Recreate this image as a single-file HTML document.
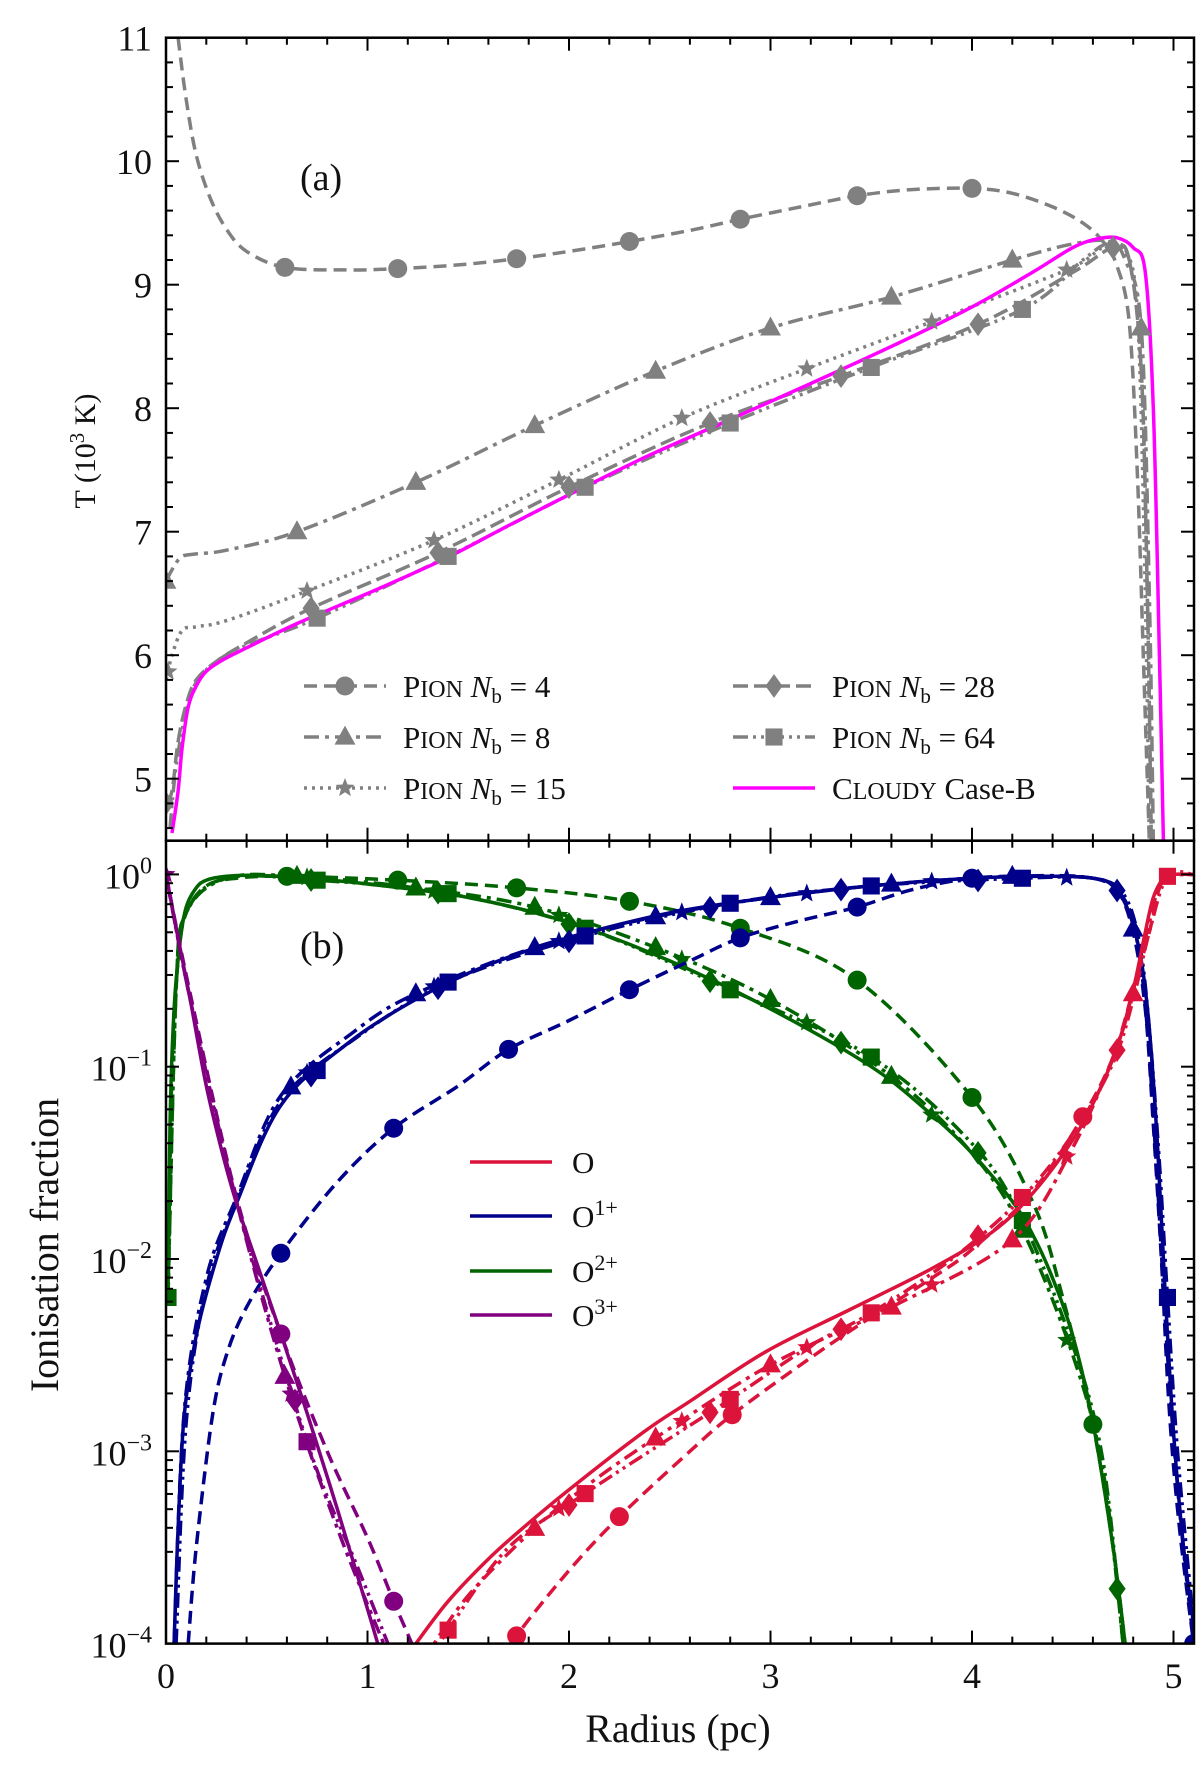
<!DOCTYPE html>
<html><head><meta charset="utf-8"><style>
html,body{margin:0;padding:0;background:#fff;}
svg text{font-family:"Liberation Serif",serif;fill:#111;}
</style></head><body>
<svg id="fig" width="1200" height="1775" viewBox="0 0 1200 1775" xmlns="http://www.w3.org/2000/svg" font-family="Liberation Serif, serif">
<defs>
<clipPath id="ca"><rect x="166" y="37.7" width="1028" height="803"/></clipPath>
<clipPath id="cb"><rect x="166" y="840.7" width="1028" height="803"/></clipPath>
</defs>
<g id="gA" clip-path="url(#ca)"></g>
<g id="gB" clip-path="url(#cb)"></g>
<g id="axes"></g>
<text x="300" y="190" font-size="38">(a)</text>
<text x="300" y="958" font-size="38">(b)</text>
<text x="0" y="0" font-size="30" transform="translate(95,451) rotate(-90)" text-anchor="middle">T (10<tspan font-size="21" dy="-11">3</tspan><tspan dy="11"> K)</tspan></text>
<text x="0" y="0" font-size="40" transform="translate(58,1245) rotate(-90)" text-anchor="middle">Ionisation fraction</text>
<text x="678" y="1742" font-size="40" text-anchor="middle">Radius (pc)</text>
<g id="legA"></g>
<g id="legB"></g>
</svg>
<script>
// ---------- Panel (a) data: Temperature (10^3 K) vs radius (pc) ----------
const nb4_R=[0.06,0.1,0.15,0.22,0.3,0.4,0.59,0.9,1.15,1.45,1.74,2.0,2.3,2.6,2.85,3.15,3.43,3.7,4.0,4.2,4.4,4.55,4.65,4.72,4.78,4.82,4.85,4.88];
const nb4_T=[11.0,10.5,10.05,9.7,9.45,9.27,9.14,9.12,9.13,9.16,9.21,9.27,9.35,9.44,9.53,9.63,9.72,9.77,9.78,9.74,9.63,9.5,9.35,9.15,8.7,7.5,6.0,4.5];
const nb4_mR=[0.59,1.15,1.74,2.3,2.85,3.43,4.0];
const nb8_R=[0,0.04,0.08,0.15,0.3,0.65,1.24,1.83,2.43,3.0,3.6,4.2,4.5,4.68,4.76,4.84,4.88,4.9];
const nb8_T=[6.6,6.72,6.8,6.82,6.85,7.0,7.4,7.86,8.3,8.65,8.9,9.2,9.33,9.35,9.2,8.65,6.5,4.5];
const nb8_mR=[0,0.65,1.24,1.83,2.43,3.0,3.6,4.2,4.84];
const nb15_R=[0,0.03,0.08,0.15,0.3,0.7,1.33,1.95,2.56,3.18,3.8,4.47,4.65,4.75,4.82,4.86,4.88];
const nb15_T=[5.8,6.0,6.2,6.23,6.28,6.52,6.93,7.42,7.92,8.32,8.7,9.12,9.3,9.28,8.8,6.5,4.5];
const nb15_mR=[0.01,0.7,1.33,1.95,2.56,3.18,3.8,4.47];
const nb28_R=[0,0.03,0.06,0.1,0.15,0.25,0.4,0.72,1.35,2.0,2.7,3.35,4.03,4.5,4.7,4.78,4.84,4.87,4.89];
const nb28_T=[4.8,4.9,5.3,5.6,5.8,5.95,6.1,6.38,6.83,7.36,7.88,8.26,8.68,9.1,9.3,9.2,8.3,6.5,4.5];
const nb28_mR=[0,0.72,1.35,2.0,2.7,3.35,4.03,4.7];
const nb64_R=[0.02,0.05,0.1,0.15,0.25,0.4,0.75,1.4,2.08,2.8,3.5,4.25,4.55,4.68,4.78,4.84,4.87,4.89];
const nb64_T=[4.6,5.1,5.55,5.78,5.95,6.08,6.3,6.8,7.36,7.88,8.33,8.8,9.2,9.33,9.2,8.3,6.5,4.5];
const nb64_mR=[0.75,1.4,2.08,2.8,3.5,4.25];
const cl_R=[0.03,0.06,0.08,0.11,0.15,0.2,0.28,0.4,0.655,1.0,1.37,1.7,2.05,2.4,2.76,3.2,3.6,4.0,4.3,4.5,4.62,4.72,4.8,4.86,4.9,4.93,4.95];
const cl_T=[4.56,4.9,5.25,5.58,5.75,5.87,5.96,6.06,6.26,6.5,6.77,7.05,7.34,7.62,7.88,8.2,8.5,8.82,9.1,9.3,9.37,9.38,9.3,9.1,8.0,6.0,4.5];
const tTicks=[5,6,7,8,9,10,11];
const rTicks=[0,1,2,3,4,5];

// ---------- Panel (b) data: log10 ionisation fraction ----------
const o2_sR=[0.01,0.02,0.04,0.07,0.1,0.15,0.2,0.3,0.45,0.7,1.0,1.5,2.0,2.5,3.0,3.5,3.8,4.0,4.2,4.3,4.4,4.5,4.6,4.7,4.76];
const o2_sL=[-2.2,-1.3,-0.7,-0.35,-0.17,-0.07,-0.03,-0.01,-0.005,-0.02,-0.05,-0.12,-0.25,-0.45,-0.7,-1.0,-1.25,-1.45,-1.7,-1.87,-2.1,-2.4,-2.85,-3.5,-4.0];
const o2_4R=[0.01,0.03,0.06,0.1,0.2,0.35,0.6,1.15,1.74,2.3,2.85,3.43,4.0,4.3,4.45,4.6,4.7,4.76];
const o2_4L=[-2.2,-1.0,-0.45,-0.2,-0.06,-0.02,-0.01,-0.03,-0.07,-0.14,-0.28,-0.55,-1.16,-1.7,-2.2,-2.86,-3.5,-4.0];
const o2_4m=[0.6,1.15,1.74,2.3,2.85,3.43,4.0,4.6];
const o2_8R=[0.01,0.05,0.1,0.3,0.65,1.24,1.83,2.43,3.0,3.6,4.0,4.25,4.5,4.65,4.75];
const o2_8L=[-2.2,-0.6,-0.2,-0.02,-0.01,-0.07,-0.17,-0.38,-0.65,-1.05,-1.45,-1.85,-2.5,-3.1,-4.0];
const o2_8m=[0.65,1.24,1.83,2.43,3.0,3.6,4.25];
const o2_64R=[0.01,0.05,0.1,0.3,0.75,1.4,2.08,2.8,3.5,4.0,4.25,4.5,4.65,4.75];
const o2_64L=[-2.2,-0.6,-0.2,-0.02,-0.03,-0.1,-0.28,-0.6,-0.95,-1.4,-1.8,-2.45,-3.05,-4.0];
const o2_64m=[0.01,0.75,1.4,2.08,2.8,3.5,4.25];
const o2_st=[0.7,1.33,1.95,2.56,3.18,3.8,4.47];
const o2_di=[0.72,1.35,2.0,2.7,3.35,4.03,4.72];

const o1_sR=[0.04,0.06,0.09,0.15,0.25,0.35,0.57,0.9,1.24,1.6,2.0,2.5,3.0,3.5,4.0,4.4,4.6,4.7,4.78,4.84,4.88,4.92,4.96,5.0,5.05,5.1];
const o1_sL=[-4.0,-3.4,-2.82,-2.4,-2.0,-1.71,-1.2,-0.88,-0.65,-0.47,-0.33,-0.2,-0.12,-0.06,-0.02,-0.01,-0.02,-0.06,-0.2,-0.45,-0.8,-1.4,-2.2,-2.9,-3.5,-3.9];
const o1_4R=[0.11,0.15,0.23,0.3,0.4,0.57,0.85,1.13,1.45,1.70,2.0,2.3,2.6,2.85,3.15,3.43,3.7,4.0,4.3,4.6,4.72,4.8,4.86,4.9,4.94,4.98,5.03,5.1];
const o1_4L=[-4.0,-3.5,-2.82,-2.5,-2.25,-1.97,-1.6,-1.32,-1.1,-0.91,-0.76,-0.6,-0.45,-0.33,-0.24,-0.17,-0.08,-0.02,-0.01,-0.02,-0.08,-0.3,-0.7,-1.3,-2.0,-2.8,-3.4,-4.0];
const o1_4m=[0.57,1.13,1.70,2.3,2.85,3.43,4.0,5.1];
const o1_8R=[0.04,0.09,0.2,0.35,0.57,0.93,1.24,1.83,2.43,3.0,3.6,4.2,4.6,4.75,4.82,4.87,4.92,4.97,5.03,5.1];
const o1_8L=[-4.0,-2.8,-2.1,-1.68,-1.15,-0.82,-0.62,-0.38,-0.22,-0.12,-0.05,-0.01,-0.02,-0.12,-0.35,-0.8,-1.6,-2.5,-3.3,-4.0];
const o1_8m=[0.62,1.24,1.83,2.43,3.0,3.6,4.2,4.8];
const o1_64R=[0.05,0.1,0.2,0.35,0.57,0.93,1.4,2.08,2.8,3.5,4.25,4.6,4.75,4.83,4.88,4.93,4.97,5.02,5.1];
const o1_64L=[-4.0,-2.85,-2.15,-1.7,-1.18,-0.86,-0.56,-0.32,-0.15,-0.06,-0.02,-0.02,-0.1,-0.35,-0.8,-1.5,-2.2,-3.0,-3.9];
const o1_64m=[0.75,1.4,2.08,2.8,3.5,4.25,4.97];
const o1_st=[0.7,1.33,1.95,2.56,3.18,3.8,4.47];
const o1_di=[0.72,1.35,2.0,2.7,3.35,4.03,4.72];

const o0_sR=[1.24,1.4,1.6,1.77,2.0,2.37,2.6,2.98,3.4,3.8,4.1,4.3,4.5,4.62,4.72,4.8,4.86,4.9,4.95,5.0,5.1];
const o0_sL=[-4.0,-3.78,-3.56,-3.40,-3.2,-2.9,-2.74,-2.48,-2.26,-2.05,-1.86,-1.66,-1.38,-1.15,-0.9,-0.6,-0.3,-0.12,-0.02,0,0];
const o0_4R=[1.68,1.74,2.0,2.25,2.6,2.81,3.15,3.43,3.8,4.0,4.3,4.55,4.7,4.8,4.88,4.95,5.1];
const o0_4L=[-4.1,-3.96,-3.62,-3.34,-3.0,-2.81,-2.55,-2.35,-2.1,-1.95,-1.65,-1.26,-0.95,-0.6,-0.3,-0.03,0];
const o0_4m=[1.74,2.25,2.81,4.55];
const o0_8R=[1.3,1.5,1.83,2.1,2.43,3.0,3.6,4.2,4.5,4.7,4.8,4.88,4.95,5.1];
const o0_8L=[-4.05,-3.75,-3.4,-3.17,-2.93,-2.55,-2.25,-1.9,-1.42,-0.95,-0.62,-0.25,-0.03,0];
const o0_8m=[1.83,2.43,3.0,3.6,4.2,4.8];
const o0_64R=[1.3,1.4,1.7,2.08,2.4,2.8,3.2,3.5,3.9,4.25,4.5,4.7,4.8,4.88,4.97,5.1];
const o0_64L=[-4.1,-3.93,-3.5,-3.22,-3.0,-2.73,-2.45,-2.28,-2.0,-1.68,-1.35,-0.98,-0.65,-0.3,-0.01,0];
const o0_64m=[1.4,2.08,2.8,3.5,4.25,4.97];
const o0_st=[1.95,2.56,3.18,3.8,4.47];
const o0_di=[2.0,2.7,3.35,4.03,4.72];

const o3_sR=[0,0.06,0.12,0.2,0.28,0.35,0.45,0.57,0.7,0.85,1.0,1.06,1.1];
const o3_sL=[0,-0.33,-0.65,-1.1,-1.45,-1.71,-2.02,-2.39,-2.8,-3.3,-3.82,-4.03,-4.15];
const o3_4R=[0,0.12,0.35,0.57,0.8,1.0,1.13,1.22];
const o3_4L=[0,-0.62,-1.68,-2.39,-3.0,-3.45,-3.78,-4.0];
const o3_4m=[0.57,1.13];
const o3_8R=[0,0.12,0.35,0.59,0.85,1.1];
const o3_8L=[0,-0.65,-1.7,-2.61,-3.4,-4.05];
const o3_8m=[0.59];
const o3_64R=[0,0.12,0.35,0.70,0.95,1.12];
const o3_64L=[0,-0.65,-1.7,-2.95,-3.6,-4.05];
const o3_64m=[0.70];
const o3_st=[0,0.62];
const o3_di=[0.64];
const logTicks=[0,-1,-2,-3,-4];

// ---------- axes ----------
const X0=166, PX=201.5;
const xr=r=>X0+r*PX;
const ya=t=>37.7+(11-t)*123.5;
const yb=l=>874.4-l*192.3;
const NS="http://www.w3.org/2000/svg";
function mk(tag,attrs,parent){const e=document.createElementNS(NS,tag);for(const k in attrs)e.setAttribute(k,attrs[k]);parent.appendChild(e);return e;}
function interp(R,V,x){if(x<=R[0])return V[0];for(let i=1;i<R.length;i++){if(x<=R[i]){const f=(x-R[i-1])/(R[i]-R[i-1]);return V[i-1]+f*(V[i]-V[i-1]);}}return V[V.length-1];}
function pathD(R,V,fy){const p=R.map((r,i)=>[xr(r),fy(V[i])]);let d="M"+p[0][0].toFixed(1)+","+p[0][1].toFixed(1);
 for(let i=0;i<p.length-1;i++){const p0=p[Math.max(0,i-1)],p1=p[i],p2=p[i+1],p3=p[Math.min(p.length-1,i+2)];
 const c1=[p1[0]+(p2[0]-p0[0])/6,p1[1]+(p2[1]-p0[1])/6],c2=[p2[0]-(p3[0]-p1[0])/6,p2[1]-(p3[1]-p1[1])/6];
 d+=" C"+c1[0].toFixed(1)+","+c1[1].toFixed(1)+" "+c2[0].toFixed(1)+","+c2[1].toFixed(1)+" "+p2[0].toFixed(1)+","+p2[1].toFixed(1);}return d;}
function line(g,R,V,fy,color,dash,w,name){const e=mk("path",{d:pathD(R,V,fy),fill:"none",stroke:color,"stroke-width":w,"stroke-dasharray":dash||"none","stroke-linejoin":"round"},g);
 
 return e;}
function marker(g,type,cx,cy,color,name){let e;const s=9.5;
 if(type==="o")e=mk("circle",{cx:cx,cy:cy,r:s},g);
 else if(type==="^")e=mk("polygon",{points:`${cx},${cy-s*1.2} ${cx-s*1.1},${cy+s*0.8} ${cx+s*1.1},${cy+s*0.8}`},g);
 else if(type==="s")e=mk("rect",{x:cx-s*0.9,y:cy-s*0.9,width:s*1.8,height:s*1.8},g);
 else if(type==="d")e=mk("polygon",{points:`${cx},${cy-s*1.25} ${cx+s*0.9},${cy} ${cx},${cy+s*1.25} ${cx-s*0.9},${cy}`},g);
 else {let pts=[];for(let i=0;i<10;i++){const a=-Math.PI/2+i*Math.PI/5,rr=i%2?s*0.45:s*1.05;pts.push((cx+rr*Math.cos(a)).toFixed(1)+","+(cy+rr*Math.sin(a)).toFixed(1));}e=mk("polygon",{points:pts.join(" ")},g);}
 e.setAttribute("fill",color);
 
 }
const GRAY="#808080";
const gA=document.getElementById("gA"), gB=document.getElementById("gB");

// panel a lines
line(gA,nb4_R,nb4_T,ya,GRAY,"13,7",3.5,"line-pion-nb4");
line(gA,nb8_R,nb8_T,ya,GRAY,"15,6,4,6",3.5,"line-pion-nb8");
line(gA,nb15_R,nb15_T,ya,GRAY,"3,5",3.5,"line-pion-nb15");
line(gA,nb28_R,nb28_T,ya,GRAY,"15,6",3.5,"line-pion-nb28");
line(gA,nb64_R,nb64_T,ya,GRAY,"15,5,3,5,3,5",3.5,"line-pion-nb64");
line(gA,cl_R,cl_T,ya,"#ff00ff","none",3.5,"line-cloudy");
nb4_mR.forEach(r=>marker(gA,"o",xr(r),ya(interp(nb4_R,nb4_T,r)),GRAY,"marker-nb4"));
nb8_mR.forEach(r=>marker(gA,"^",xr(r),ya(interp(nb8_R,nb8_T,r)),GRAY,"marker-nb8"));
nb15_mR.forEach(r=>marker(gA,"*",xr(r),ya(interp(nb15_R,nb15_T,r)),GRAY,"marker-nb15"));
nb28_mR.forEach(r=>marker(gA,"d",xr(r),ya(interp(nb28_R,nb28_T,r)),GRAY,"marker-nb28"));
nb64_mR.forEach(r=>marker(gA,"s",xr(r),ya(interp(nb64_R,nb64_T,r)),GRAY,"marker-nb64"));

// panel b
const ions=[
 {n:"o2p",c:"#006400",s:[o2_sR,o2_sL],a:[o2_4R,o2_4L,o2_4m],b:[o2_8R,o2_8L,o2_8m],q:[o2_64R,o2_64L,o2_64m],st:o2_st,di:o2_di},
 {n:"o1p",c:"#00008b",s:[o1_sR,o1_sL],a:[o1_4R,o1_4L,o1_4m],b:[o1_8R,o1_8L,o1_8m],q:[o1_64R,o1_64L,o1_64m],st:o1_st,di:o1_di},
 {n:"o0",c:"#dc143c",s:[o0_sR,o0_sL],a:[o0_4R,o0_4L,o0_4m],b:[o0_8R,o0_8L,o0_8m],q:[o0_64R,o0_64L,o0_64m],st:o0_st,di:o0_di},
 {n:"o3p",c:"#800080",s:[o3_sR,o3_sL],a:[o3_4R,o3_4L,o3_4m],b:[o3_8R,o3_8L,o3_8m],q:[o3_64R,o3_64L,o3_64m],st:o3_st,di:o3_di}];
ions.forEach(I=>{
 line(gB,I.s[0],I.s[1],yb,I.c,"none",3.5,"line-"+I.n+"-cloudy");
 line(gB,I.a[0],I.a[1],yb,I.c,"13,7",3.5,"line-"+I.n+"-nb4");
 line(gB,I.b[0],I.b[1],yb,I.c,"15,6,4,6",3.5,"line-"+I.n+"-nb8");
 line(gB,I.q[0],I.q[1],yb,I.c,"15,5,3,5,3,5",3.5,"line-"+I.n+"-nb64");
 I.a[2].forEach(r=>marker(gB,"o",xr(r),yb(interp(I.a[0],I.a[1],r)),I.c,"marker-"+I.n+"-nb4"));
 I.b[2].forEach(r=>marker(gB,"^",xr(r),yb(interp(I.b[0],I.b[1],r)),I.c,"marker-"+I.n+"-nb8"));
 I.st.forEach(r=>marker(gB,"*",xr(r),yb(interp(I.b[0],I.b[1],r)),I.c,"marker-"+I.n+"-nb15"));
 I.di.forEach(r=>marker(gB,"d",xr(r),yb(interp(I.q[0],I.q[1],r)),I.c,"marker-"+I.n+"-nb28"));
 I.q[2].forEach(r=>marker(gB,"s",xr(r),yb(interp(I.q[0],I.q[1],r)),I.c,"marker-"+I.n+"-nb64"));
});

// axes frames & ticks
const ax=document.getElementById("axes");
const L=166,Rt=1194,TA=37.7,BA=840.7,BB=1643.6;
function tk(x1,y1,x2,y2){mk("line",{x1:x1,y1:y1,x2:x2,y2:y2,stroke:"#000","stroke-width":2},ax);}
function txt(x,y,s,anchor,size,name){const e=mk("text",{x:x,y:y,"font-size":size,"text-anchor":anchor},ax);e.innerHTML=s;
 
 return e;}
[[TA,BA],[BA,BB]].forEach(([t,b])=>{const r=mk("rect",{x:L,y:t,width:Rt-L,height:b-t,fill:"none",stroke:"#000","stroke-width":2.5},ax);
 
 
 for(let i=0;i<=25;i++){const x=xr(i*0.2);if(x>Rt)break;const len=(i%5===0)?13:7;
  tk(x,t,x,t+len);tk(x,b,x,b-len);}
});
for(let i=0;i<=32;i++){const T=4.6+i*0.2;const y=ya(T);if(y<TA-0.5||y>BA)continue;const maj=Math.abs(T-Math.round(T))<1e-6;const len=maj?13:7;tk(L,y,L+len,y);tk(Rt,y,Rt-len,y);}
tTicks.forEach(t=>txt(152,ya(t)+13,String(t),"end",36,"y-tick-label-temperature"));
for(let d=-4;d<=0;d++){for(let m=1;m<=9;m++){const l=d+Math.log10(m);const y=yb(l);if(y<BA||y>BB+0.5)continue;const len=m===1?13:7;tk(L,y,L+len,y);tk(Rt,y,Rt-len,y);}}
logTicks.forEach(l=>{const e=txt(152,yb(l)+14,"10","end",36,"y-tick-label-ionisation");
 const sp=mk("tspan",{"font-size":24,dy:-15},e);sp.textContent=l===0?"0":"\u2212"+(-l);});
rTicks.forEach(r=>txt(xr(r),1688,String(r),"middle",36,"x-tick-label"));

// legend a
const lA=document.getElementById("legA");
const legA=[["o","13,7",304,686,"4","legend-nb4"],["^","15,6,4,6",304,737,"8","legend-nb8"],["*","3,5",304,788,"15","legend-nb15"],
 ["d","15,6",733,686,"28","legend-nb28"],["s","15,5,3,5,3,5",733,737,"64","legend-nb64"]];
legA.forEach(([m,d,x,y,n,name])=>{
 const g=mk("g",{},lA);
 mk("line",{x1:x,y1:y,x2:x+82,y2:y,stroke:GRAY,"stroke-width":3.5,"stroke-dasharray":d},g);
 marker(g,m,x+41,y,GRAY,"legend-marker");
 const t=mk("text",{x:x+99,y:y+11,"font-size":31},g);
 t.innerHTML=`P<tspan font-size="24">ION</tspan> <tspan font-style="italic">N</tspan><tspan font-size="21" dy="6">b</tspan><tspan dy="-6"> = ${n}</tspan>`;
});
{const g=mk("g",{},lA);
 mk("line",{x1:733,y1:788,x2:815,y2:788,stroke:"#ff00ff","stroke-width":3.5},g);
 const t=mk("text",{x:832,y:799,"font-size":31},g);
 t.innerHTML=`C<tspan font-size="24">LOUDY</tspan> Case-B`;}

// legend b
const lB=document.getElementById("legB");
[["#dc143c","O","",1162,"legend-o"],["#00008b","O","1+",1216,"legend-o1p"],["#006400","O","2+",1271,"legend-o2p"],["#800080","O","3+",1315,"legend-o3p"]].forEach(([c,b,s,y,name])=>{
 const g=mk("g",{},lB);
 mk("line",{x1:470,y1:y,x2:552,y2:y,stroke:c,"stroke-width":3.5},g);
 const t=mk("text",{x:572,y:y+11,"font-size":31},g);
 t.innerHTML=b+(s?`<tspan font-size="22" dy="-12">${s}</tspan>`:"");
});
</script>
</body></html>
